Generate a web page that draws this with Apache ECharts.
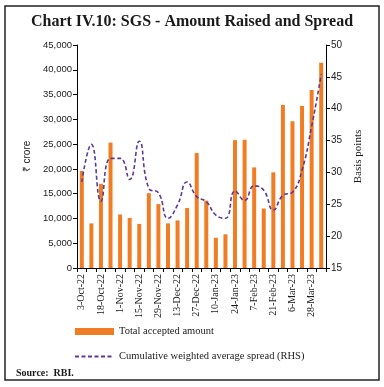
<!DOCTYPE html>
<html>
<head>
<meta charset="utf-8">
<script src="https://cdn.jsdelivr.net/npm/echarts@6/dist/echarts.min.js"></script>
<style>html,body{margin:0;padding:0;background:#fff;}#c{width:384px;height:387px;}</style>
</head>
<body>
<div id="c"></div>
<script>
const categories = ["3-Oct-22","11-Oct-22","18-Oct-22","25-Oct-22","1-Nov-22","8-Nov-22","15-Nov-22","22-Nov-22","29-Nov-22","6-Dec-22","13-Dec-22","20-Dec-22","27-Dec-22","3-Jan-23","10-Jan-23","17-Jan-23","24-Jan-23","31-Jan-23","7-Feb-23","14-Feb-23","21-Feb-23","28-Feb-23","6-Mar-23","21-Mar-23","28-Mar-23","30-Mar-23"];
const amountRaised = [19600, 9000, 17000, 25300, 10800, 10100, 8900, 15100, 12900, 9000, 9600, 12100, 23200, 13600, 6100, 6800, 25800, 25900, 20300, 12000, 19300, 32900, 29600, 32700, 35900, 41400];
const spreadBps = [28.5, 34.4, 25.5, 32.2, 32.2, 28.9, 34.9, 27.5, 26.8, 22.8, 24.9, 28.5, 26.2, 25.4, 23.3, 22.8, 27.1, 25.6, 27.9, 27.2, 24.1, 26.4, 26.9, 30.4, 37.2, 45.4];
const leftTicks = {min: 0, max: 45000, interval: 5000};
const rightTicks = {min: 15, max: 50, interval: 5};
const seriesNames = ["Total accepted amount", "Cumulative weighted average spread (RHS)"];

const chart = echarts.init(document.getElementById('c'), null, {renderer: 'canvas'});
const sans = 'Liberation Sans';
const serif = 'Liberation Serif';
chart.setOption({
  animation: false,
  title: [{
    text: 'Chart IV.10: SGS - Amount Raised and Spread',
    left: 'center', top: 14, padding: 0,
    textStyle: {fontFamily: serif, fontWeight: 'bold', fontSize: 16, color: '#1a1a1a'}
  }, {
    text: '{b|Source:} {n|RBI.}',
    left: 16, top: 364, padding: 0,
    textStyle: {rich: {
      b: {fontFamily: serif, fontWeight: 'bold', fontSize: 10, color: '#1a1a1a'},
      n: {fontFamily: serif, fontSize: 10, color: '#1a1a1a'}
    }}
  }],
  graphic: [{
    type: 'rect', shape: {x: 5, y: 6, width: 374, height: 374},
    style: {fill: 'none', stroke: '#222', lineWidth: 1.5}, silent: true
  }],
  legend: {
    orient: 'vertical', left: 74, top: 326, itemGap: 14, padding: 0,
    itemWidth: 39, itemHeight: 7,
    textStyle: {fontFamily: serif, fontSize: 10.5, color: '#1a1a1a'},
    data: [
      {name: seriesNames[0], icon: 'rect'},
      {name: seriesNames[1], itemStyle: {opacity: 0, color: 'rgba(0,0,0,0)', borderWidth: 0}}
    ]
  },
  grid: {left: 77, right: 58, top: 45, bottom: 119, containLabel: false},
  xAxis: {
    type: 'category', data: categories, boundaryGap: true,
    axisLine: {lineStyle: {color: '#000', width: 1}},
    axisTick: {show: true, alignWithLabel: false, interval: 0, length: 4, lineStyle: {color: '#000'}},
    axisLabel: {interval: 1, rotate: 90, fontFamily: serif, fontSize: 10, color: '#1a1a1a', margin: 6}
  },
  yAxis: [{
    type: 'value', min: leftTicks.min, max: leftTicks.max, interval: leftTicks.interval,
    name: '₹ crore', nameLocation: 'middle', nameGap: 44, nameRotate: 90,
    nameTextStyle: {fontFamily: sans, fontSize: 10, color: '#1a1a1a'},
    axisLine: {show: true, lineStyle: {color: '#000'}},
    axisTick: {show: true, length: 4, lineStyle: {color: '#000'}},
    splitLine: {show: false},
    axisLabel: {fontFamily: sans, fontSize: 9.5, color: '#1a1a1a', margin: 5,
      formatter: v => v.toLocaleString('en-US')}
  }, {
    type: 'value', min: rightTicks.min, max: rightTicks.max, interval: rightTicks.interval,
    position: 'right',
    name: 'Basis points', nameLocation: 'middle', nameGap: 26, nameRotate: 90,
    nameTextStyle: {fontFamily: serif, fontSize: 11, color: '#1a1a1a'},
    axisLine: {show: true, lineStyle: {color: '#000'}},
    axisTick: {show: true, length: 4, lineStyle: {color: '#000'}},
    splitLine: {show: false},
    axisLabel: {fontFamily: sans, fontSize: 10, color: '#1a1a1a', margin: 5}
  }],
  series: [{
    name: seriesNames[0], type: 'bar', yAxisIndex: 0, data: amountRaised,
    barWidth: 4, itemStyle: {color: '#f07d24'}
  }, {
    name: seriesNames[1], type: 'line', yAxisIndex: 1, data: spreadBps,
    smooth: 0.5, symbol: 'none',
    lineStyle: {color: '#5b3a96', width: 1.6, type: [4, 2.5]},
    itemStyle: {color: '#5b3a96'}
  }]
});
</script>
</body>
</html>
